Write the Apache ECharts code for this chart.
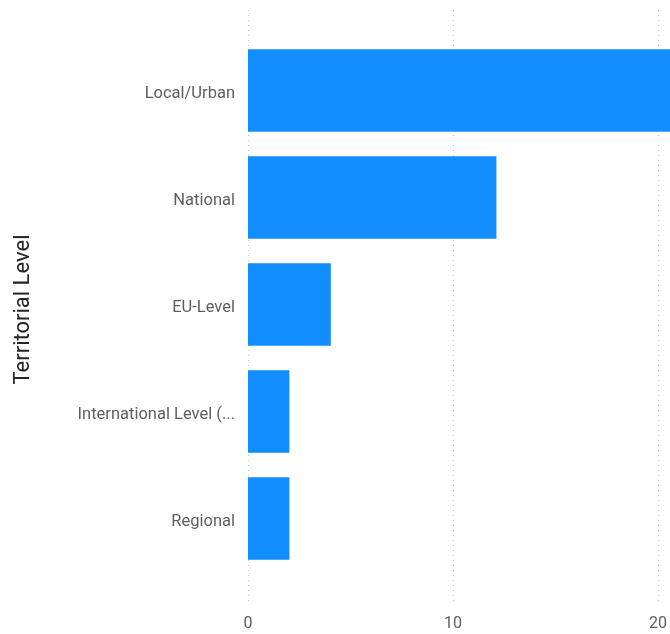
<!DOCTYPE html>
<html>
<head>
<meta charset="utf-8">
<script src="https://cdn.jsdelivr.net/npm/echarts@6/dist/echarts.min.js"></script>
<style>
html,body{margin:0;padding:0;background:#fff;}
#c{width:670px;height:634px;}
</style>
</head>
<body>
<div id="c"></div>
<script>
const categories = ['Local/Urban', 'National', 'EU-Level', 'International Level (...', 'Regional'];
const values = [21, 12, 4, 2, 2];
const xTicks = [0, 10, 20];
const axisTitle = 'Territorial Level';

const chart = echarts.init(document.getElementById('c'));
const FONT = 'Roboto';
chart.setOption({
  animation: false,
  backgroundColor: '#ffffff',
  grid: [
    { left: 248, right: 8, top: 37, bottom: 62, containLabel: false },
    { left: 248, right: 8, top: 10, bottom: 29, containLabel: false }
  ],
  xAxis: [
    { type: 'value', gridIndex: 0, min: xTicks[0], max: xTicks[xTicks.length - 1], interval: 10, show: false },
    {
      type: 'value', gridIndex: 1, min: xTicks[0], max: xTicks[xTicks.length - 1], interval: 10,
      axisLine: { show: false }, axisTick: { show: false },
      axisLabel: { color: '#605e5c', fontFamily: FONT, fontSize: 16, margin: 11 },
      splitLine: { show: true, lineStyle: { type: [1, 4], color: '#c8c6c4', width: 1 } }
    }
  ],
  yAxis: [
    {
      type: 'category', gridIndex: 0, data: categories, inverse: true,
      axisLine: { show: false }, axisTick: { show: false },
      axisLabel: {
        margin: 13,
        formatter: v => '{a|' + v + '}',
        rich: { a: { color: '#605e5c', fontFamily: FONT, fontSize: 16.5, padding: [6, 0, 0, 0] } }
      },
      name: axisTitle, nameLocation: 'middle', nameGap: 214, nameRotate: 90,
      nameTextStyle: { color: '#252423', fontFamily: FONT, fontSize: 22, padding: [0, 10, 0, 0] }
    },
    { type: 'category', gridIndex: 1, data: categories, show: false }
  ],
  series: [{
    type: 'bar', xAxisIndex: 0, yAxisIndex: 0, data: values,
    barCategoryGap: '23%', clip: false,
    itemStyle: { color: '#118dff' }
  }]
});
</script>
</body>
</html>
